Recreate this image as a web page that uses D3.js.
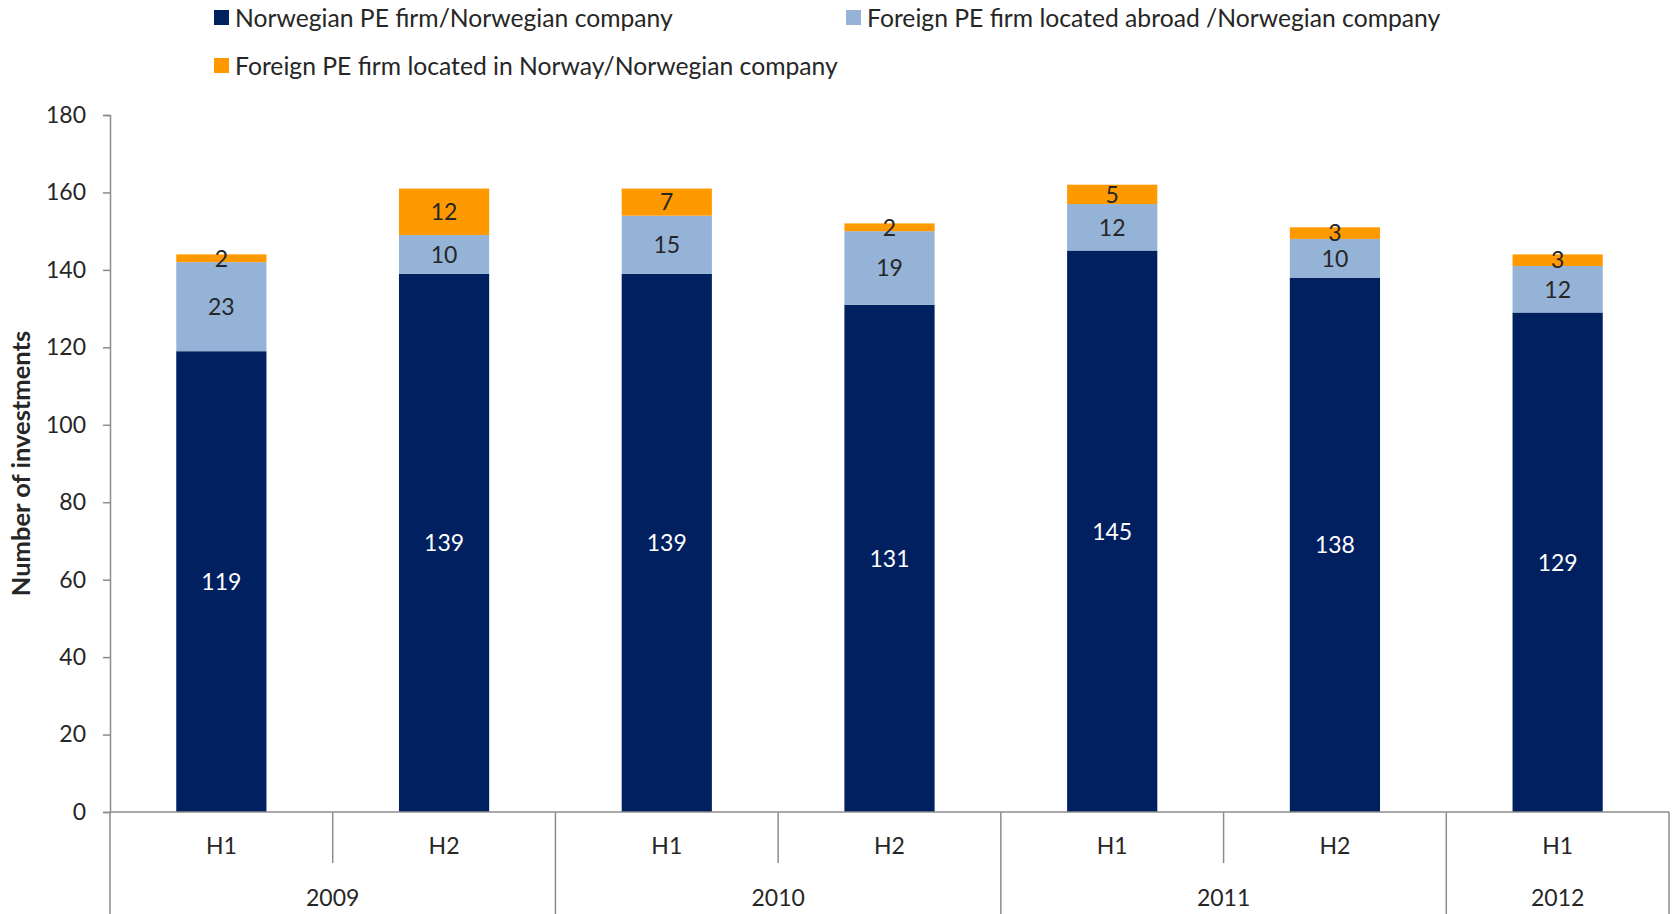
<!DOCTYPE html>
<html><head><meta charset="utf-8">
<script src="https://cdn.jsdelivr.net/npm/d3@7"></script>
<style>body{margin:0;background:#fff}svg{display:block}text{font-family:Lato,"Open Sans",sans-serif}</style>
</head><body>
<svg id="c" width="1675" height="914"></svg>
<script>
const halves = ["H1","H2","H1","H2","H1","H2","H1"];
const years = ["2009","2009","2010","2010","2011","2011","2012"];
const seriesNames = ["Norwegian PE firm/Norwegian company","Foreign PE firm located abroad /Norwegian company","Foreign PE firm located in Norway/Norwegian company"];
const norwegian = [119,139,139,131,145,138,129];
const foreignAbroad = [23,10,15,19,12,10,12];
const foreignInNorway = [2,12,7,2,5,3,3];
const yTicks = [0,20,40,60,80,100,120,140,160,180];
const colors = ["#002060","#95B3D7","#FF9900"];
const labelColors = ["#ffffff","#262626","#262626"];

const svg = d3.select("#c");
const L = 110, R = 1669, T = 115, B = 812;
const idx = d3.range(halves.length);
const x = d3.scaleBand().domain(idx).range([L,R]).padding(0);
const y = d3.scaleLinear().domain([0,180]).range([B,T]);
const barW = x.bandwidth()*0.405;

const rows = idx.map(i=>({i, a:norwegian[i], b:foreignAbroad[i], c:foreignInNorway[i]}));
const stack = d3.stack().keys(["a","b","c"])(rows);

// bars
stack.forEach((layer,k)=>{
  const g = svg.append("g");
  g.selectAll("rect").data(layer).join("rect")
    .attr("x",d=>x(d.data.i)+(x.bandwidth()-barW)/2)
    .attr("width",barW)
    .attr("y",d=>y(d[1]))
    .attr("height",d=>y(d[0])-y(d[1]))
    .attr("fill",colors[k]);
  g.selectAll("text").data(layer).join("text")
    .attr("x",d=>x(d.data.i)+x.bandwidth()/2)
    .attr("y",d=>(y(d[0])+y(d[1]))/2)
    .attr("dy","0.36em")
    .attr("text-anchor","middle")
    .attr("font-size",23)
    .attr("fill",labelColors[k])
    .text(d=>d[1]-d[0]);
});

// y axis
const axisColor = "#8c8c8c";
const ya = svg.append("g").attr("transform",`translate(${L},0)`)
  .call(d3.axisLeft(y).tickValues(yTicks).tickSize(7).tickPadding(17));
ya.select(".domain").attr("stroke",axisColor).attr("stroke-width",1.5);
ya.selectAll(".tick line").attr("stroke",axisColor).attr("stroke-width",1.5);
ya.selectAll(".tick text").attr("font-size",23).attr("fill","#262626").attr("font-family","Lato");

svg.append("text").attr("transform",`translate(30,${(T+B)/2+0}) rotate(-90)`)
  .attr("text-anchor","middle").attr("font-size",25.5).attr("font-weight","bold")
  .attr("fill","#262626").text("Number of investments");

// x axis
const xa = svg.append("g").attr("transform",`translate(0,${B})`)
  .call(d3.axisBottom(x).tickFormat(i=>halves[i]).tickSize(0).tickPadding(26));
xa.select(".domain").remove();
xa.selectAll(".tick text").attr("font-size",23).attr("fill","#262626").attr("font-family","Lato");
svg.append("line").attr("x1",L).attr("x2",R).attr("y1",B).attr("y2",B).attr("stroke",axisColor).attr("stroke-width",1.5);

// separators
idx.forEach(i=>{
  if(i===0) return;
  const sameYear = years[i]===years[i-1];
  svg.append("line").attr("x1",x(i)).attr("x2",x(i)).attr("y1",B).attr("y2",sameYear?863:914)
    .attr("stroke",axisColor).attr("stroke-width",1.5);
});
[L,R].forEach(px=>svg.append("line").attr("x1",px).attr("x2",px).attr("y1",B).attr("y2",914).attr("stroke",axisColor).attr("stroke-width",1.5));

// year labels
const yearGroups = d3.groups(idx, i=>years[i]);
svg.append("g").selectAll("text").data(yearGroups).join("text")
  .attr("x",d=>(x(d[1][0])+x(d[1][d[1].length-1])+x.bandwidth())/2)
  .attr("y",898).attr("dy","0.36em").attr("text-anchor","middle")
  .attr("font-size",23).attr("fill","#262626").text(d=>d[0]);

// legend
const legendPos = [[214,18],[846,18],[214,66]];
const lg = svg.append("g").selectAll("g").data(seriesNames).join("g")
  .attr("transform",(d,i)=>`translate(${legendPos[i][0]},${legendPos[i][1]})`);
lg.append("rect").attr("x",0).attr("y",-8).attr("width",15).attr("height",15).attr("fill",(d,i)=>colors[i]);
lg.append("text").attr("x",21).attr("y",0).attr("dy","0.36em").attr("font-size",24.7).attr("fill","#262626").text(d=>d);
</script>
</body></html>
